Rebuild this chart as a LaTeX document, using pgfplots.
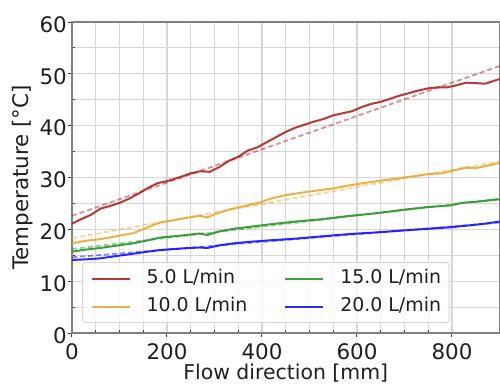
\documentclass[border=0pt]{standalone}
\usepackage{fontspec}
\setmainfont{DejaVu Sans}
\usepackage{pgfplots}
\pgfplotsset{compat=1.18}
\definecolor{cred}{HTML}{B22222}
\definecolor{cyel}{HTML}{E8AA30}
\definecolor{cgrn}{HTML}{2A962A}
\definecolor{cblu}{HTML}{1414FF}
\definecolor{gridc}{HTML}{D6D6D6}
\definecolor{spine}{HTML}{808080}
\begin{document}
\begin{tikzpicture}
\useasboundingbox (-72bp,-52bp) rectangle (428bp,333bp);
\begin{axis}[
  at={(0,0)}, anchor=south west,
  scale only axis, width=427.5bp, height=311bp,
  xmin=0, xmax=900, ymin=0, ymax=60,
  xtick={0,200,...,800}, ytick={0,10,...,60},
  minor x tick num=3, minor y tick num=1,
  grid=both,
  major grid style={draw=gridc, line width=1.1bp},
  minor grid style={draw=gridc, line width=1.1bp},
  axis line style={draw=spine, line width=1.3bp},
  tick pos=left, tick align=outside,
  major tick length=4bp, minor tick length=-3bp,
  tick style={draw=black!75, line width=1bp},
  /pgf/number format/assume math mode=true,
  ticklabel style={font=\fontsize{21.5}{26}\selectfont, text=black!88},
  xticklabel style={anchor=base, inner sep=0pt, yshift=-22.5bp},
  yticklabel style={anchor=east, inner sep=0pt, xshift=-1bp, yshift=-2.5bp},
  xlabel={Flow direction [mm]}, ylabel={Temperature [°C]},
  label style={font=\fontsize{21.5}{26}\selectfont, text=black!88},
  xlabel style={at={(axis description cs:0.5,-0.1500)}, anchor=base, inner sep=0pt, font=\fontsize{20.5}{24}\selectfont},
  ylabel style={at={(axis description cs:-0.1018,0.5)}, anchor=base, inner sep=0pt},
  legend columns=2, legend cell align=left,
  legend image code/.code={\draw[#1] (0bp,0bp) -- (38bp,0bp); \path (54bp,0bp);},
  legend style={at={(axis description cs:0.0234,0.032)}, anchor=south west,
    draw=gridc, line width=1bp, rounded corners=3bp, fill=white, fill opacity=0.8,
    text opacity=1, draw opacity=1,
    inner xsep=8bp, inner ysep=7bp, row sep=10bp,
    font=\fontsize{19}{22}\selectfont,
    nodes={inner sep=0pt, text height=14bp, text depth=4bp, text=black!88},
    /tikz/every even column/.append style={column sep=37bp}},
]
% fits
\addplot[cred, line width=1.8bp, opacity=0.5, dash pattern=on 5bp off 3bp, forget plot] coordinates {(0,22.6) (900,51.5)};
\addplot[cyel, line width=1.8bp, opacity=0.5, dash pattern=on 5bp off 3bp, forget plot] coordinates {(0,18.3) (900,33.1)};
\addplot[cgrn, line width=1.8bp, opacity=0.5, dash pattern=on 5bp off 3bp, forget plot] coordinates {(0,16.2) (900,25.9)};
\addplot[cblu, line width=1.8bp, opacity=0.5, dash pattern=on 5bp off 3bp, forget plot] coordinates {(0,14.6) (900,21.3)};
% measured
\addplot[cred, line width=2bp, opacity=0.9] coordinates {
(0,21.1) (20,22.0) (40,22.8) (60,24.0) (80,24.5) (100,25.1) (120,25.9) (140,26.9)
(160,28.0) (180,28.9) (200,29.3) (225,30.0) (250,30.8) (270,31.2) (290,31.1) (310,32.0)
(330,33.2) (350,34.0) (370,35.2) (390,35.8) (410,36.8) (430,37.8) (450,38.8) (470,39.6)
(490,40.2) (510,40.8) (530,41.3) (550,42.0) (570,42.4) (590,42.8) (610,43.6) (630,44.2)
(650,44.6) (670,45.2) (690,45.8) (710,46.3) (730,46.8) (750,47.2) (770,47.4) (790,47.4)
(810,47.8) (830,48.3) (850,48.2) (870,48.1) (890,48.7) (900,49.0)};
\addlegendentry{5.0 L/min}
\addplot[cgrn, line width=2bp, opacity=0.9] coordinates {
(0,15.7) (30,16.1) (59,16.4) (90,16.8) (129,17.3) (160,17.9) (185,18.4) (230,18.8)
(269,19.2) (285,18.9) (310,19.6) (340,20.1) (375,20.5) (420,21.0) (470,21.5) (520,21.9)
(585,22.6) (640,23.1) (700,23.8) (750,24.3) (796,24.6) (820,25.1) (860,25.4) (900,25.8)};
\addlegendentry{15.0 L/min}
\addplot[cyel, line width=2bp, opacity=0.9] coordinates {
(0,17.3) (30,17.8) (60,18.1) (90,18.6) (130,19.3) (160,20.4) (185,21.3) (210,21.7)
(240,22.2) (269,22.6) (285,22.3) (300,22.9) (330,23.8) (368,24.6) (400,25.3) (417,25.9)
(450,26.6) (500,27.3) (550,27.9) (585,28.5) (620,29.0) (650,29.4) (700,30.0) (754,30.7)
(780,30.8) (800,31.3) (830,31.9) (850,31.8) (875,32.3) (900,32.8)};
\addlegendentry{10.0 L/min}
\addplot[cblu, line width=2bp, opacity=0.9] coordinates {
(0,14.1) (30,14.2) (59,14.4) (90,14.8) (129,15.3) (160,15.7) (185,16.0) (230,16.3)
(269,16.5) (285,16.4) (310,16.9) (340,17.3) (375,17.6) (420,17.9) (470,18.2) (520,18.6)
(585,19.1) (640,19.4) (700,19.8) (750,20.1) (796,20.4) (830,20.7) (870,21.1) (900,21.5)};
\addlegendentry{20.0 L/min}
\end{axis}
\end{tikzpicture}
\end{document}
